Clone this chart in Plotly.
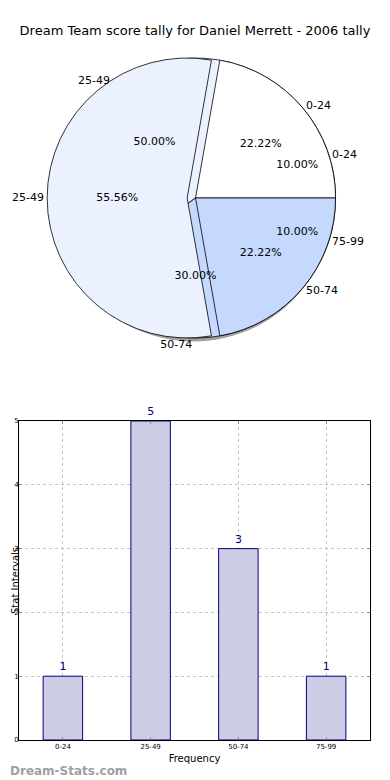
import plotly.graph_objects as go

# ---- data ----
categories = ["0-24", "25-49", "50-74", "75-99"]
tally_counts = [1, 5, 3, 1]
pie_b_labels = ["0-24", "25-49", "50-74"]
pie_b_counts = [2, 5, 2]
y_ticks = [0, 1, 2, 3, 4, 5]

# ---- styles ----
FONT = "DejaVu Sans"
pie_a_colors = ["#ffffff", "#ebf1fe", "#c5d9ff", "#c5d9ff"]
pie_b_colors = ["#ffffff", "#ebf1fe", "#c5d9ff"]
CLEAR = "rgba(0,0,0,0)"
bar_fill = "#ccccE5"
navy = "#000080"

PIE_CY = 0.7743          # pie centre (paper fraction)
PIE_HALF = 0.2           # half of the pie domain height
B_PULL = [0, 0.06, 0]    # exploded middle wedge of the second pie
pull_scale = 1 + max(B_PULL)

pie_dom_x = [0.006, 1.0]
pie_dom_y = [PIE_CY - PIE_HALF, PIE_CY + PIE_HALF]
pie_b_dom_y = [PIE_CY - PIE_HALF * pull_scale, PIE_CY + PIE_HALF * pull_scale]
shadow_dx = [0.0, 0.994]
shadow_dy = [PIE_CY - PIE_HALF - 0.005, PIE_CY + PIE_HALF - 0.005]


def start_at_three(values):
    # plotly's counterclockwise pies place the first slice clockwise of `rotation`;
    # shift so the first slice starts at 3 o'clock like matplotlib
    return 90 - 360.0 * values[0] / sum(values)


rot_a = start_at_three(tally_counts)
rot_b = start_at_three(pie_b_counts)

fig = go.Figure()

common = dict(sort=False, direction="counterclockwise", automargin=False,
              hoverinfo="skip", showlegend=False)

# shadow
fig.add_trace(go.Pie(labels=categories, values=tally_counts, rotation=rot_a,
                     marker=dict(colors=["#8a8a8a"] * 4, line=dict(width=0)),
                     textinfo="none", domain=dict(x=shadow_dx, y=shadow_dy),
                     opacity=0.8, **common))
# pie A (colored, no text)
fig.add_trace(go.Pie(labels=categories, values=tally_counts, rotation=rot_a,
                     marker=dict(colors=pie_a_colors, line=dict(color="#000000", width=0.8)),
                     textinfo="none", domain=dict(x=pie_dom_x, y=pie_dom_y), **common))
# pie B (colored with percentages)
fig.add_trace(go.Pie(labels=pie_b_labels, values=pie_b_counts, rotation=rot_b, pull=B_PULL,
                     marker=dict(colors=pie_b_colors, line=dict(color="#000000", width=0.8)),
                     texttemplate="%{percent:.2%}", textposition="inside",
                     insidetextorientation="horizontal",
                     textfont=dict(family=FONT, size=11, color="#000000"),
                     domain=dict(x=pie_dom_x, y=pie_b_dom_y), **common))
# pie B outside labels
fig.add_trace(go.Pie(labels=pie_b_labels, values=pie_b_counts, rotation=rot_b, pull=B_PULL,
                     marker=dict(colors=[CLEAR] * 3, line=dict(color=CLEAR, width=0)),
                     texttemplate="%{label}", textposition="outside",
                     outsidetextfont=dict(family=FONT, size=11, color="#000000"),
                     domain=dict(x=pie_dom_x, y=pie_b_dom_y), **common))
# pie A percentages
fig.add_trace(go.Pie(labels=categories, values=tally_counts, rotation=rot_a,
                     marker=dict(colors=[CLEAR] * 4, line=dict(color=CLEAR, width=0)),
                     texttemplate="%{percent:.2%}", textposition="inside",
                     insidetextorientation="horizontal",
                     insidetextfont=dict(family=FONT, size=11, color="#000000"),
                     domain=dict(x=pie_dom_x, y=pie_dom_y), **common))
# pie A outside labels
fig.add_trace(go.Pie(labels=categories, values=tally_counts, rotation=rot_a,
                     marker=dict(colors=[CLEAR] * 4, line=dict(color=CLEAR, width=0)),
                     texttemplate="%{label}", textposition="outside",
                     outsidetextfont=dict(family=FONT, size=11, color="#000000"),
                     domain=dict(x=pie_dom_x, y=pie_dom_y), **common))

# bar chart
fig.add_trace(go.Bar(x=categories, y=tally_counts, width=0.45,
                     marker=dict(color=bar_fill, line=dict(color=navy, width=1)),
                     text=tally_counts, textposition="outside", cliponaxis=False,
                     textfont=dict(family=FONT, size=11, color=navy),
                     hoverinfo="skip", showlegend=False))

W, H = 382, 772  # page adds an 8px body margin
fig.update_layout(
    width=W, height=H,
    margin=dict(l=11, r=20, t=32, b=40, autoexpand=False),
    paper_bgcolor="white", plot_bgcolor="white",
    font=dict(family=FONT, color="#000000"),
    title=dict(text="Dream Team score tally for Daniel Merrett - 2006 tally",
               x=(187 / W), xanchor="center", y=1 - 22 / H, yanchor="middle",
               font=dict(family=FONT, size=13, color="#000000")),
    xaxis=dict(type="category", range=[-0.5, 3.5], showline=True, linecolor="#000000",
               linewidth=1, mirror="ticks", ticks="inside", ticklen=3, tickcolor="#888",
               showgrid=True, gridcolor="#c4c4c4", griddash="dot", gridwidth=1,
               tickfont=dict(family=FONT, size=7, color="#000000"),
               title=dict(text="Frequency", font=dict(family=FONT, size=10), standoff=4),
               automargin=False),
    yaxis=dict(domain=[0, 0.4557], range=[0, 5], tickvals=y_ticks, showline=True,
               linecolor="#000000", linewidth=1, mirror="ticks", ticks="inside", ticklen=3,
               tickcolor="#888", showgrid=True, gridcolor="#c4c4c4", griddash="dot",
               gridwidth=1, zeroline=False, ticklabelstandoff=-2,
               tickfont=dict(family=FONT, size=7, color="#000000"),
               automargin=False),
    annotations=[
        dict(text="Stat Intervals", xref="paper", yref="paper", textangle=-90,
             x=-11 / 351, y=0.4557 / 2, xanchor="left", yanchor="middle",
             showarrow=False, font=dict(family=FONT, size=10, color="#000000")),
        dict(text="<b>Dream-Stats.com</b>", xref="paper", yref="paper",
             x=-11 / 351, y=-31 / 700, xanchor="left", yanchor="middle",
             showarrow=False, font=dict(family=FONT, size=12, color="#a0a0a0")),
    ],
)

fig.write_html("out.html")
